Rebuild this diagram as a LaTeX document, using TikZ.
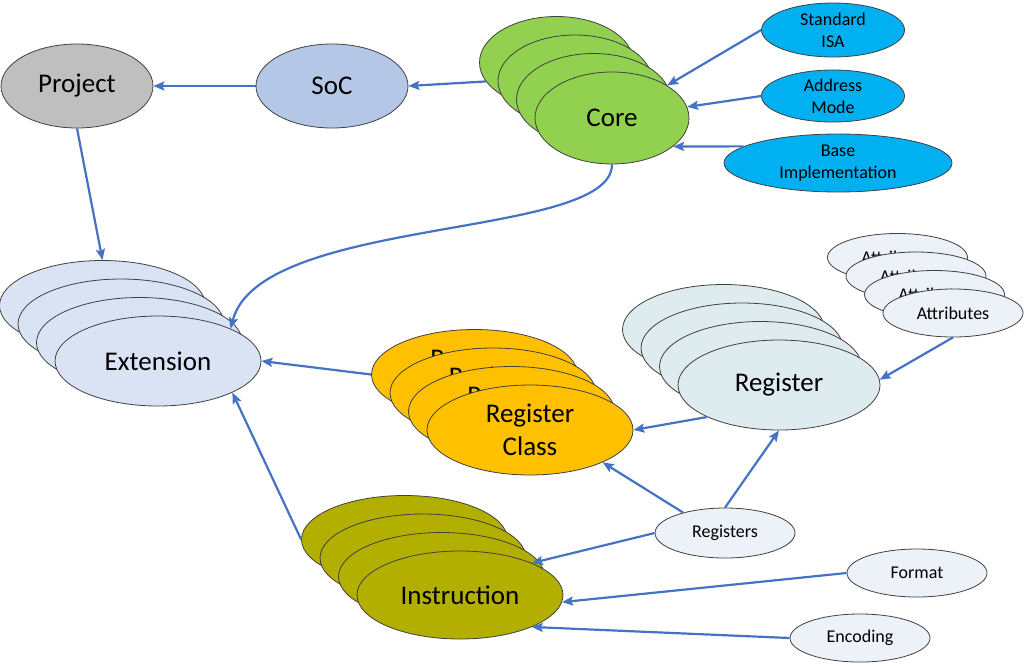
\documentclass[tikz,border=0pt]{standalone}
\usepackage{fontspec}
\setmainfont{Carlito}
\usetikzlibrary{shapes.geometric}
\usetikzlibrary{arrows.meta}

\definecolor{outline}{RGB}{64,64,64}
\definecolor{linkblue}{RGB}{68,114,196}
\definecolor{projgray}{RGB}{191,191,191}
\definecolor{socblue}{RGB}{180,199,231}
\definecolor{coregreen}{RGB}{146,208,80}
\definecolor{isablue}{RGB}{0,176,240}
\definecolor{extblue}{RGB}{218,227,243}
\definecolor{rcorange}{RGB}{255,192,0}
\definecolor{reggray}{RGB}{222,235,239}
\definecolor{taglight}{RGB}{237,242,249}
\definecolor{instolive}{RGB}{178,175,0}

\newcommand{\largelabel}{\fontsize{27}{33}\selectfont}
\newcommand{\smalllabel}{\fontsize{18}{22}\selectfont}

\begin{document}
\begin{tikzpicture}[x=1pt,y=-1pt,
  blob/.style={ellipse, draw=outline, line width=0.8pt, inner sep=0pt, align=center, font=\largelabel},
  tag/.style={ellipse, draw=outline, line width=0.8pt, inner sep=0pt, align=center, font=\smalllabel},
  link/.style={draw=linkblue, line width=2.2pt, -{Stealth[length=11pt,width=9pt,inset=2pt]}}]
%frame
\useasboundingbox (0,0) rectangle (1024,665);
%top row
\node[blob, fill=projgray, minimum width=152, minimum height=84] (project) at (77,86) {Project};
\node[blob, fill=socblue, minimum width=152, minimum height=84] (soc) at (332,86) {SoC};
%core stack
\foreach \i in {3,2,1}
  \node[blob, fill=coregreen, minimum width=154, minimum height=92] (core\i) at ({612-18.5*\i},{118-18.5*\i}) {};
\node[blob, fill=coregreen, minimum width=154, minimum height=92] (core) at (612,118) {Core};
%core inputs
\node[tag, fill=isablue, minimum width=143, minimum height=54] (isa) at (833,30) {Standard\\ISA};
\node[tag, fill=isablue, minimum width=143, minimum height=52] (mode) at (833,96) {Address\\Mode};
\node[tag, fill=isablue, minimum width=228, minimum height=58] (base) at (838,163) {Base\\Implementation};
%extension stack
\foreach \i in {3,2,1}
  \node[blob, fill=extblue, minimum width=206, minimum height=90] (ext\i) at ({158-18.5*\i},{361-18.5*\i}) {};
\node[blob, fill=extblue, minimum width=206, minimum height=90] (ext) at (158,361) {Extension};
%attributes stack
\foreach \i in {3,2,1}
  \node[tag, fill=taglight, minimum width=140, minimum height=48] (attr\i) at ({953-18.5*\i},{313-18.5*\i}) {Attributes};
\node[tag, fill=taglight, minimum width=140, minimum height=48] (attr) at (953,313) {Attributes};
%register stack
\foreach \i in {3,2,1}
  \node[blob, fill=reggray, minimum width=202, minimum height=90] (reg\i) at ({779-18.5*\i},{385-18.5*\i}) {};
\node[blob, fill=reggray, minimum width=202, minimum height=90] (reg) at (779,385) {Register};
%register class stack
\foreach \i in {3,2,1}
  \node[blob, fill=rcorange, minimum width=206, minimum height=90] (rc\i) at ({530-18.5*\i},{430-18.5*\i}) {Register\\Class};
\node[blob, fill=rcorange, minimum width=206, minimum height=90] (rc) at (530,430) {Register\\Class};
%instruction stack
\foreach \i in {3,2,1}
  \node[blob, fill=instolive, minimum width=206, minimum height=88] (inst\i) at ({460-18.5*\i},{595-18.5*\i}) {};
\node[blob, fill=instolive, minimum width=206, minimum height=88] (inst) at (460,595) {Instruction};
%instruction inputs
\node[tag, fill=taglight, minimum width=140, minimum height=50] (regs) at (725,533) {Registers};
\node[tag, fill=taglight, minimum width=140, minimum height=48] (format) at (917,573) {Format};
\node[tag, fill=taglight, minimum width=140, minimum height=48] (encoding) at (860,638) {Encoding};
%links
\draw[link] (soc) -- (project);
\draw[link] (core3.195) -- (soc.east);
\draw[link] (isa.west) -- (core);
\draw[link] (mode.west) -- (core);
\draw[link] (base.170) -- (core.-25);
\draw[link] (core.south) .. controls (612,240) and (260,215) .. (ext.24);
\draw[link] (project.south) -- (ext3.north);
\draw[link] (rc3.west) -- (ext.east);
\draw[link] (inst3.west) -- (ext.-23);
\draw[link] (reg.204) -- (rc.east);
\draw[link] (attr.south) -- (reg.3);
\draw[link] (regs.154) -- (rc.-24);
\draw[link] (regs.north) -- (reg.south);
\draw[link] (regs.west) -- (inst.24);
\draw[link] (format.west) -- (inst.-4);
\draw[link] (encoding.west) -- (inst.-24);
\end{tikzpicture}
\end{document}
